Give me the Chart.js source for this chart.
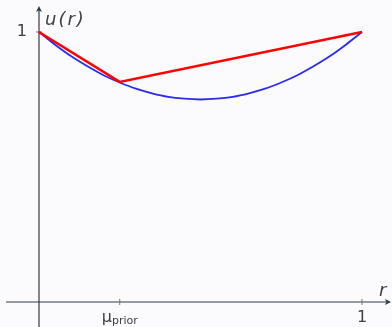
<!DOCTYPE html>
<html>
<head>
<meta charset="utf-8">
<script src="https://cdn.jsdelivr.net/npm/chart.js@4"></script>
<style>
  html, body { margin: 0; padding: 0; background: #fbfbfd; }
  #wrap { width: 392px; height: 327px; }
</style>
</head>
<body>
<div id="wrap"><canvas id="chart"></canvas></div>
<script>
// blue curve u(r)
const curveR = [0, 0.05, 0.1, 0.15, 0.2, 0.25, 0.3, 0.35, 0.4, 0.45, 0.5,
                0.55, 0.6, 0.65, 0.7, 0.75, 0.8, 0.85, 0.9, 0.95, 1];
const curveU = [1, 0.953, 0.91, 0.873, 0.84, 0.813, 0.79, 0.773, 0.76, 0.753, 0.75,
                0.753, 0.76, 0.773, 0.79, 0.813, 0.84, 0.873, 0.91, 0.953, 1];
// red concavification: (0,1) -> (mu_prior, u) -> (1,1)
const hullR = [0, 0.25, 1];
const hullU = [1, 0.815, 1];
// tick labels
const xTicks = [{ v: 0.25, label: 'μ', sub: 'prior' }, { v: 1, label: '1' }];
const yTicks = [{ v: 1, label: '1' }];

const axisColor = '#2e3b42';
const textColor = '#404040';

// hand-drawn axes with arrows, like the beamer figure
const axesPlugin = {
  id: 'axes',
  beforeDatasetsDraw(chart) {
    const { ctx, scales: { x, y } } = chart;
    const x0 = x.getPixelForValue(0), y0 = y.getPixelForValue(0);
    ctx.save();
    ctx.strokeStyle = axisColor;
    ctx.fillStyle = axisColor;
    ctx.lineWidth = 1.2;
    // x axis
    ctx.beginPath();
    ctx.moveTo(6, y0); ctx.lineTo(390, y0); ctx.stroke();
    ctx.beginPath();
    ctx.moveTo(391, y0); ctx.lineTo(385, y0 - 3); ctx.lineTo(386.5, y0); ctx.lineTo(385, y0 + 3); ctx.closePath(); ctx.fill();
    // y axis
    ctx.beginPath();
    ctx.moveTo(x0, 327); ctx.lineTo(x0, 8); ctx.stroke();
    ctx.beginPath();
    ctx.moveTo(x0, 6); ctx.lineTo(x0 - 3, 12); ctx.lineTo(x0, 10.5); ctx.lineTo(x0 + 3, 12); ctx.closePath(); ctx.fill();

    // ticks
    ctx.strokeStyle = '#777';
    ctx.lineWidth = 1;
    ctx.fillStyle = textColor;
    ctx.textBaseline = 'middle';
    xTicks.forEach(t => {
      const px = x.getPixelForValue(t.v);
      ctx.beginPath(); ctx.moveTo(px, y0 - 3); ctx.lineTo(px, y0 + 3); ctx.stroke();
      if (t.sub) {
        ctx.font = '16px "DejaVu Sans"';
        const w1 = ctx.measureText(t.label).width;
        ctx.font = '11px "DejaVu Sans"';
        const w2 = ctx.measureText(t.sub).width;
        const sx = px - (w1 + w2) / 2;
        ctx.textAlign = 'left';
        ctx.font = '16px "DejaVu Sans"';
        ctx.fillText(t.label, sx, y0 + 16);
        ctx.font = '11px "DejaVu Sans"';
        ctx.fillText(t.sub, sx + w1, y0 + 19);
      } else {
        ctx.textAlign = 'center';
        ctx.font = '16px "DejaVu Sans"';
        ctx.fillText(t.label, px, y0 + 16);
      }
    });
    yTicks.forEach(t => {
      const py = y.getPixelForValue(t.v);
      ctx.beginPath(); ctx.moveTo(x0 - 3, py); ctx.lineTo(x0 + 3, py); ctx.stroke();
      ctx.textAlign = 'right';
      ctx.font = '16px "DejaVu Sans"';
      ctx.fillText(t.label, x0 - 12, py);
    });

    // axis titles
    ctx.font = 'italic 18px "DejaVu Sans"';
    ctx.textAlign = 'left';
    ctx.letterSpacing = '2px';
    ctx.fillText('u(r)', x0 + 6, 20);
    ctx.letterSpacing = '0px';
    ctx.fillText('r', 379, y0 - 11);
    ctx.restore();
  }
};

new Chart(document.getElementById('chart'), {
  type: 'scatter',
  data: {
    datasets: [
      {
        label: 'hull',
        data: hullR.map((r, i) => ({ x: r, y: hullU[i] })),
        showLine: true,
        borderColor: '#ff0000',
        borderWidth: 2.6,
        pointRadius: 0,
        tension: 0
      },
      {
        label: 'u(r)',
        data: curveR.map((r, i) => ({ x: r, y: curveU[i] })),
        showLine: true,
        borderColor: '#2a2af2',
        borderWidth: 1.8,
        pointRadius: 0,
        tension: 0.4,
        cubicInterpolationMode: 'monotone'
      }
    ]
  },
  options: {
    responsive: true,
    maintainAspectRatio: false,
    animation: false,
    layout: { padding: 0 },
    plugins: { legend: { display: false }, tooltip: { enabled: false } },
    scales: {
      x: { type: 'linear', display: false, min: -0.1207, max: 1.0929 },
      y: { type: 'linear', display: false, min: -0.0926, max: 1.1185 }
    }
  },
  plugins: [axesPlugin]
});
</script>
</body>
</html>
